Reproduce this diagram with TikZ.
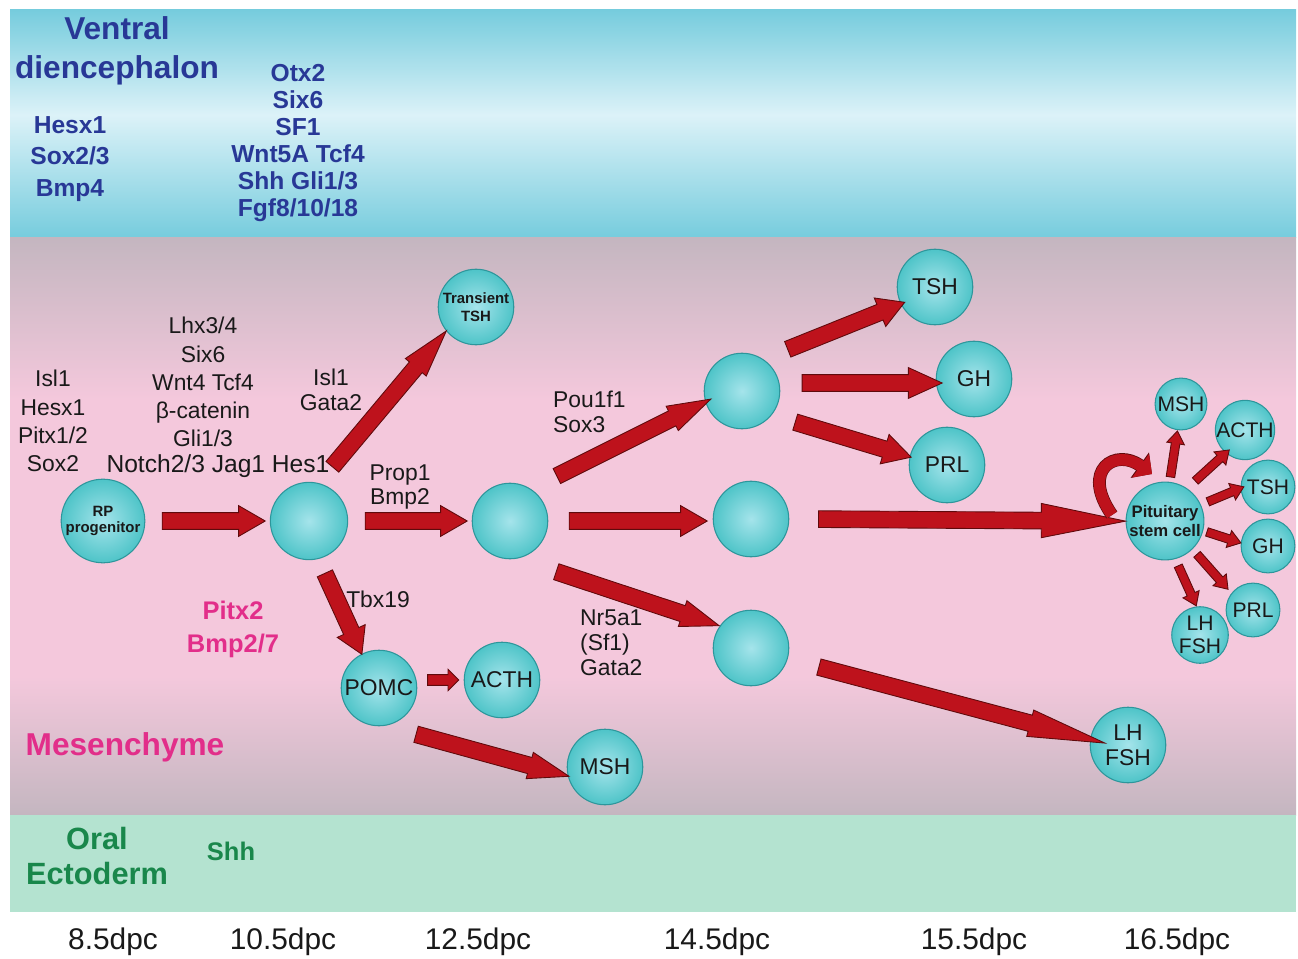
\documentclass[tikz,border=0pt]{standalone}
\usepackage{fontspec}
\setmainfont{Liberation Sans}
\usetikzlibrary{calc,shapes.arrows,arrows.meta}
\definecolor{vdblue}{RGB}{40,56,150}
\definecolor{inkblack}{RGB}{25,25,25}
\definecolor{mesmagenta}{RGB}{226,46,138}
\definecolor{oraltext}{RGB}{25,135,75}
\definecolor{oralgreen}{RGB}{180,227,208}
\definecolor{vdcyan}{RGB}{118,204,221}
\definecolor{vdlight}{RGB}{220,242,248}
\definecolor{mesgrey}{RGB}{196,182,192}
\definecolor{mespink}{RGB}{244,200,220}
\definecolor{cellin}{RGB}{165,228,235}
\definecolor{cellout}{RGB}{78,196,200}
\definecolor{celledge}{RGB}{45,150,155}
\definecolor{arrowred}{RGB}{190,18,28}
\definecolor{arrowedge}{RGB}{95,10,12}
% the path covers 25bp--75bp of a shading
\pgfdeclareverticalshading{vdband}{100bp}{color(0bp)=(vdcyan); color(25bp)=(vdcyan); color(52bp)=(vdlight); color(75bp)=(vdcyan); color(100bp)=(vdcyan)}
\pgfdeclareverticalshading{mesband}{100bp}{color(0bp)=(mesgrey); color(25bp)=(mesgrey); color(37bp)=(mespink); color(61bp)=(mespink); color(75bp)=(mesgrey); color(100bp)=(mesgrey)}
\tikzset{
  cell/.style={circle, draw=celledge, line width=0.6pt, inner color=cellin, outer color=cellout,
    minimum size=43pt, inner sep=0pt, align=center, text=inkblack, font=\fontsize{13}{14}\selectfont},
  smallcell/.style={cell, minimum size=30.6pt, font=\fontsize{12}{13}\selectfont},
  fatarrow/.style={single arrow, draw=arrowedge, fill=arrowred, line width=0.5pt, inner xsep=0pt,
    inner ysep=4.5pt, single arrow head extend=4pt, single arrow tip angle=60},
  thinarrow/.style={inner ysep=2.2pt, single arrow head extend=2.6pt, single arrow tip angle=70},
  bandtitle/.style={font=\fontsize{18}{22}\selectfont\bfseries, align=center},
  bluegenes/.style={font=\fontsize{14}{18.1}\selectfont\bfseries, text=vdblue, align=center},
  genes/.style={font=\fontsize{13}{16}\selectfont, text=inkblack, align=center},
  pairgenes/.style={genes, font=\fontsize{13}{14.2}\selectfont},
  dpc/.style={font=\fontsize{17}{20}\selectfont, text=inkblack}
}
% [node style]{name}{from}{to}
\newcommand{\fatarrow}[4][]{%
  \path let \p1=#3, \p2=#4, \n1={veclen(\x2-\x1,\y2-\y1)} in
    (\p1) -- (\p2) node[midway, sloped, allow upside down, fatarrow, minimum height=\n1, #1] (#2) {};}

\begin{document}
\begin{tikzpicture}[x=0.02cm,y=-0.02cm]
  \useasboundingbox (0,0) rectangle (1298,959);
  % tissue bands
  \shade[shading=vdband] (10,10) rectangle (1296,238);
  \shade[shading=mesband] (10,238) rectangle (1296,815);
  \fill[oralgreen] (10,815) rectangle (1296,912);

  % ventral diencephalon
  \node[bandtitle, text=vdblue] (ventral) at (117,51) {Ventral\\diencephalon};
  \node[bluegenes] (vdleft) at (70,159) {Hesx1\\Sox2/3\\Bmp4};
  \node[bluegenes, font=\fontsize{14}{15.3}\selectfont\bfseries] (vdright) at (298,143) {Otx2\\Six6\\SF1\\Wnt5A Tcf4\\Shh Gli1/3\\Fgf8/10/18};

  % mesenchyme and oral ectoderm
  \node[bandtitle, text=mesmagenta] (mesench) at (125,747) {Mesenchyme};
  \node[font=\fontsize{14.5}{18.7}\selectfont\bfseries, text=mesmagenta, align=center] (pitx) at (233,629) {Pitx2\\Bmp2/7};
  \node[bandtitle, text=oraltext, font=\fontsize{17.5}{20.4}\selectfont\bfseries] (oral) at (97,856) {Oral\\Ectoderm};
  \node[font=\fontsize{14.5}{16}\selectfont\bfseries, text=oraltext] (oralshh) at (231,851) {Shh};

  % factors
  \node[genes] (rpgenes) at (53,421) {Isl1\\Hesx1\\Pitx1/2\\Sox2};
  \node[genes] (lhxgenes) at (203,382) {Lhx3/4\\Six6\\Wnt4 Tcf4\\β-catenin\\Gli1/3};
  \node[genes, font=\fontsize{14}{16}\selectfont] (notch) at (218,466) {Notch2/3 Jag1 Hes1};
  \node[pairgenes] (islgenes) at (331,390) {Isl1\\Gata2};
  \node[pairgenes] (propgenes) at (400,487) {Prop1\\Bmp2};
  \node[pairgenes, anchor=west, align=left] (pougenes) at (547,412) {Pou1f1\\Sox3};
  \node[genes] (tbx) at (378,599) {Tbx19};
  \node[pairgenes, anchor=west, align=left] (nrgenes) at (574,643) {Nr5a1\\(Sf1)\\Gata2};

  % stages
  \foreach \x/\t [count=\i] in {113/8.5,283/10.5,478/12.5,717/14.5,974/15.5,1177/16.5}
    \node[dpc] (dpc\i) at (\x,942) {\t dpc};

  % cells
  \node[cell, minimum size=47.6pt, font=\fontsize{8.5}{9.5}\selectfont\bfseries] (rp) at (103,521) {RP\\progenitor};
  \node[cell, minimum size=44pt] (n1) at (309,521) {};
  \node[cell, font=\fontsize{8.5}{10}\selectfont\bfseries] (ttsh) at (476,307) {Transient\\TSH};
  \node[cell] (n2) at (510,521) {};
  \node[cell] (pomc) at (379,688) {POMC};
  \node[cell] (acth) at (502,680) {ACTH};
  \node[cell] (msh) at (605,767) {MSH};
  \node[cell] (n3) at (742,391) {};
  \node[cell] (n4) at (751,519) {};
  \node[cell] (n5) at (751,648) {};
  \node[cell] (tsh) at (935,287) {TSH};
  \node[cell] (gh) at (974,379) {GH};
  \node[cell] (prl) at (947,465) {PRL};
  \node[cell] (lhfsh) at (1128,745) {LH\\FSH};
  \node[cell, font=\fontsize{9.5}{11}\selectfont\bfseries] (stem) at (1165,521) {Pituitary\\stem cell};
  \node[smallcell, minimum size=29.5pt] (smsh) at (1181,404) {MSH};
  \node[smallcell, minimum size=31.7pt] (sacth) at (1245,430) {ACTH};
  \node[smallcell] (stsh) at (1268,487) {TSH};
  \node[smallcell] (sgh) at (1268,546) {GH};
  \node[smallcell] (sprl) at (1253,610) {PRL};
  \node[smallcell] (slh) at (1200,635) {LH\\FSH};

  % lineage arrows
  \fatarrow{rpn1}{($(rp)+(52,0)$)}{($(n1)+(-51,0)$)}
  \fatarrow{n1n2}{($(n1)+(49,0)$)}{($(n2)+(-50,0)$)}
  \fatarrow[single arrow tip angle=32, single arrow head extend=3pt]{n1ttsh}{($(n1)+(14,-43)$)}{($(ttsh)+(-39,35)$)}
  \fatarrow[single arrow tip angle=62]{n1pomc}{($(n1)+(13,46)$)}{($(pomc)+(-20,-40)$)}
  \fatarrow[thinarrow, inner ysep=2.8pt, single arrow head extend=3pt, single arrow tip angle=90]{pomcacth}{($(pomc)+(46,-8)$)}{($(acth)+(-46,0)$)}
  \fatarrow[single arrow tip angle=37, single arrow head extend=3pt]{pomcmsh}{($(pomc)+(25,43)$)}{($(msh)+(-48,6)$)}
  \fatarrow{n2n4}{($(n2)+(52,0)$)}{($(n4)+(-51,2)$)}
  \fatarrow[single arrow tip angle=35, single arrow head extend=3pt]{n2n3}{($(n2)+(35,-39)$)}{($(n3)+(-43,14)$)}
  \fatarrow[single arrow tip angle=39, single arrow head extend=3pt]{n2n5}{($(n2)+(35,47)$)}{($(n5)+(-43,-26)$)}
  \fatarrow{n3tsh}{($(n3)+(39,-39)$)}{($(tsh)+(-37,18)$)}
  \fatarrow[single arrow tip angle=49]{n3gh}{($(n3)+(51,-8)$)}{($(gh)+(-41,4)$)}
  \fatarrow[single arrow tip angle=58]{n3prl}{($(n3)+(46,29)$)}{($(prl)+(-43,-10)$)}
  \fatarrow[single arrow tip angle=23, single arrow head extend=5pt]{n4stem}{($(n4)+(47,0)$)}{($(stem)+(-60,0)$)}
  \fatarrow[single arrow tip angle=20, single arrow head extend=3pt]{n5lh}{($(n5)+(45,13)$)}{($(lhfsh)+(-46,-8)$)}

  % stem cell fates
  \fatarrow[thinarrow]{stmsh}{($(stem)+(5,-41)$)}{($(smsh)+(-4,30)$)}
  \fatarrow[thinarrow]{stacth}{($(stem)+(28,-38)$)}{($(sacth)+(-18,22)$)}
  \fatarrow[thinarrow]{sttsh}{($(stem)+(40,-18)$)}{($(stsh)+(-27,1)$)}
  \fatarrow[thinarrow]{stgh}{($(stem)+(39,10)$)}{($(sgh)+(-30,-4)$)}
  \fatarrow[thinarrow]{stprl}{($(stem)+(30,31)$)}{($(sprl)+(-27,-23)$)}
  \fatarrow[thinarrow]{stlh}{($(stem)+(12,42)$)}{($(slh)+(-5,-32)$)}
  % self renewal
  \draw[arrowred, line width=6.5pt, -{Triangle[length=8pt,width=16pt]},
        preaction={draw=arrowedge, line width=7.3pt, -{Triangle[length=8.6pt,width=17.4pt]}}]
    ($(stem)+(-53,-6)$) .. controls +(-32,-46) and +(-36,-26) .. ($(stem)+(-13,-47)$);
\end{tikzpicture}
\end{document}
